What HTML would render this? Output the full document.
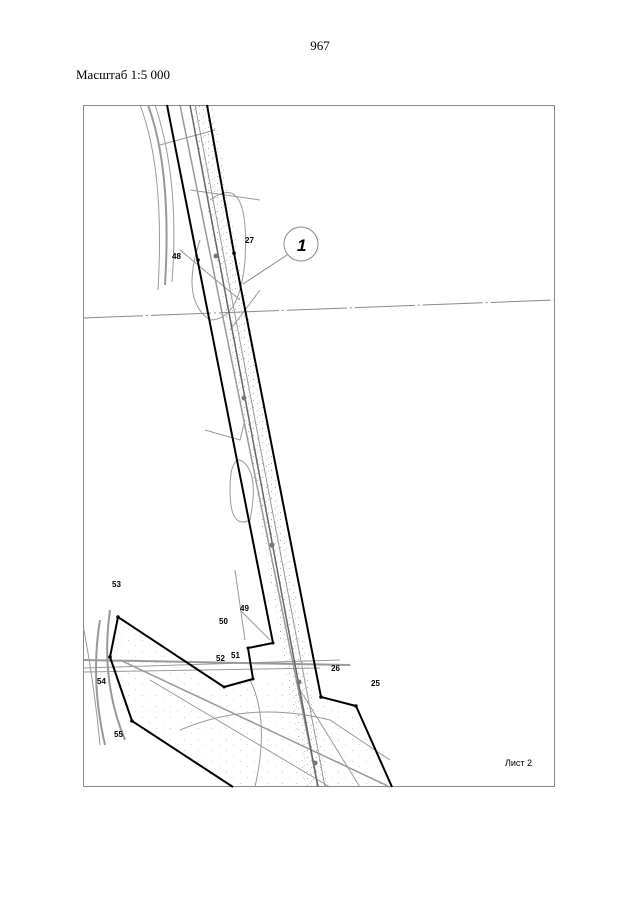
<!DOCTYPE html>
<html><head><meta charset="utf-8"><style>
body{margin:0;background:#fff;width:640px;height:905px;overflow:hidden}
</style></head><body>
<svg width="640" height="905" xmlns="http://www.w3.org/2000/svg" font-family="Liberation Sans, sans-serif">
<defs>
<pattern id="dots" width="9" height="7" patternUnits="userSpaceOnUse">
<rect x="1" y="1" width="1" height="1" fill="#aaa"/><rect x="5" y="4" width="1" height="1" fill="#bbb"/><rect x="7" y="2" width="1" height="1" fill="#ccc"/>
</pattern>
<pattern id="dots2" width="14" height="11" patternUnits="userSpaceOnUse">
<rect x="2" y="2" width="1" height="1" fill="#ccc"/><rect x="9" y="7" width="1" height="1" fill="#ddd"/>
</pattern>
</defs>
<rect width="640" height="905" fill="#fff"/>
<text x="320" y="50" font-family="Liberation Serif, serif" font-size="13" text-anchor="middle">967</text>
<text x="76" y="79" font-family="Liberation Serif, serif" font-size="13">Масштаб 1:5 000</text>
<polygon points="190,105 213,105 328,787 305,787" fill="url(#dots)"/>
<polygon points="118,617 224,687 253,679 280,680 356,706 392,787 233,787 132,721 110,657" fill="url(#dots2)"/>
<rect x="83.5" y="105.5" width="471" height="681" fill="none" stroke="#888" stroke-width="1"/>
<g fill="none" stroke="#999" stroke-width="1">
<line x1="83" y1="318" x2="555" y2="300" stroke="#888" stroke-dasharray="60,3,2,3"/>
<path d="M140 105 Q165 170 158 290"/>
<path d="M148 105 Q172 170 165 285" stroke-width="2"/>
<path d="M155 105 Q180 180 172 282"/>
<path d="M180 105 L318 787" stroke-width="1.5"/>
<path d="M195 105 L325 787"/>
<path d="M210 200 Q250 170 245 260 Q240 320 210 320 Q180 300 200 240"/>
<path d="M240 460 Q260 470 250 520 Q230 530 230 490 Q230 460 240 460"/>
<path d="M205 430 L240 440 L245 420"/>
<path d="M160 145 L215 130 M190 190 L260 200 M180 250 L240 300 M230 330 L260 290"/>
<path d="M84 660 L350 665" stroke-width="2"/>
<path d="M84 668 L340 660"/>
<path d="M84 672 L320 668"/>
<path d="M120 660 L390 787" stroke-width="1.5"/>
<path d="M150 680 L330 787"/>
<path d="M250 680 Q270 720 255 787"/>
<path d="M180 730 Q250 700 330 720 L390 760"/>
<path d="M300 690 L360 787"/>
<path d="M100 620 Q90 680 105 745" stroke-width="2"/>
<path d="M110 610 Q100 680 125 740" stroke-width="2"/>
<path d="M84 630 Q95 690 100 745"/>
<path d="M240 610 L270 640"/>
<path d="M235 570 L245 640"/>
</g>
<line x1="190" y1="105" x2="318" y2="787" stroke="#666" stroke-width="1.5"/>
<g fill="#777"><circle cx="216" cy="256" r="2.5"/><circle cx="244" cy="398" r="2.5"/><circle cx="272" cy="545" r="2.5"/><circle cx="299" cy="682" r="2.5"/><circle cx="315" cy="763" r="2.5"/></g>
<g fill="none" stroke="#000" stroke-width="2">
<polyline points="167,105 273,643 248,648 253,679 224,687 118,617 110,657 132,721 233,787"/>
<polyline points="207,105 234,253 321,697 356,706 392,787"/>
</g>
<g fill="#000"><circle cx="198" cy="260" r="1.8"/><circle cx="234" cy="253" r="1.8"/><circle cx="273" cy="643" r="1.5"/><circle cx="248" cy="648" r="1.5"/><circle cx="253" cy="679" r="1.5"/><circle cx="224" cy="687" r="1.5"/><circle cx="118" cy="617" r="1.8"/><circle cx="110" cy="657" r="1.8"/><circle cx="132" cy="721" r="1.8"/><circle cx="321" cy="697" r="1.8"/><circle cx="356" cy="706" r="1.8"/></g>
<circle cx="301" cy="244" r="17" fill="#fff" stroke="#888"/>
<line x1="287" y1="255" x2="243" y2="284" stroke="#888"/>
<text x="297" y="251" font-size="17" font-weight="bold" font-style="italic">1</text>
<g font-size="8" font-weight="bold">
<text x="245" y="243">27</text><text x="172" y="259">48</text>
<text x="112" y="587">53</text><text x="240" y="611">49</text><text x="219" y="624">50</text>
<text x="231" y="658">51</text><text x="216" y="661">52</text><text x="97" y="684">54</text>
<text x="114" y="737">55</text><text x="331" y="671">26</text><text x="371" y="686">25</text>
</g>
<text x="505" y="766" font-size="9">Лист 2</text>
</svg>
</body></html>
